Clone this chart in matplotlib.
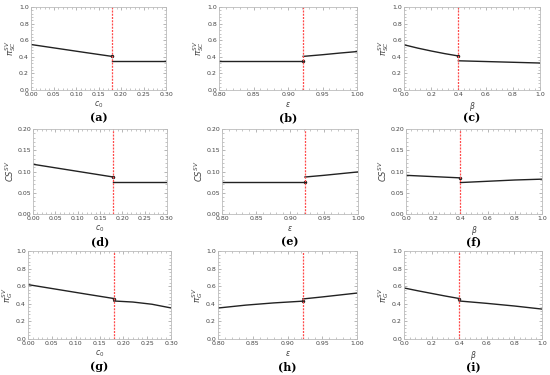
import matplotlib.pyplot as plt
from matplotlib.ticker import AutoMinorLocator

# threshold values (red dashed lines)
c0_cut = 0.18
eps_cut = 0.922
beta_cut = 0.40

# x grids for each parameter, split at the threshold
c0_left = [0.0, 0.06, 0.12, 0.18]
c0_right = [0.18, 0.22, 0.26, 0.30]
eps_left = [0.80, 0.84, 0.88, 0.922]
eps_right = [0.922, 0.95, 0.975, 1.0]
beta_left = [0.0, 0.1, 0.2, 0.3, 0.4]
beta_right = [0.4, 0.6, 0.8, 1.0]

# pi_SC
a_left = [0.548, 0.500, 0.452, 0.405]
a_right = [0.352, 0.352, 0.352, 0.352]
b_left = [0.352, 0.352, 0.352, 0.352]
b_right = [0.405, 0.425, 0.445, 0.463]
c_left = [0.545, 0.505, 0.470, 0.438, 0.410]
c_right = [0.352, 0.343, 0.334, 0.325]

# CS
d_left = [0.117, 0.107, 0.097, 0.087]
d_right = [0.076, 0.076, 0.076, 0.076]
e_left = [0.076, 0.076, 0.076, 0.076]
e_right = [0.087, 0.091, 0.095, 0.099]
f_left = [0.091, 0.0895, 0.088, 0.0865, 0.085]
f_right = [0.074, 0.077, 0.080, 0.082]

# pi_G
g_left = [0.618, 0.565, 0.512, 0.460]
g_right = [0.432, 0.420, 0.395, 0.353]
h_left = [0.352, 0.385, 0.410, 0.430]
h_right = [0.455, 0.478, 0.500, 0.522]
i_left = [0.580, 0.548, 0.518, 0.488, 0.460]
i_right = [0.432, 0.405, 0.375, 0.340]

W, H = 550, 375
fig = plt.figure(figsize=(5.5, 3.75), dpi=100)

# (left, right, top, bottom) in pixels
boxes = [
    (31, 166, 7, 90), (219, 357, 7, 90), (404, 540, 7, 90),
    (33, 167, 129, 214), (222, 358, 129, 214), (406, 542, 129, 214),
    (28, 171, 251, 339), (218, 357, 251, 339), (404, 542, 251, 339),
]

panels = [
    (c0_left, a_left, c0_right, a_right, c0_cut, (0, 0.30), (0, 1.0), r'$\pi_{SC}^{SV}$', r'$c_0$', '(a)'),
    (eps_left, b_left, eps_right, b_right, eps_cut, (0.8, 1.0), (0, 1.0), r'$\pi_{SC}^{SV}$', r'$\varepsilon$', '(b)'),
    (beta_left, c_left, beta_right, c_right, beta_cut, (0, 1.0), (0, 1.0), r'$\pi_{SC}^{SV}$', r'$\beta$', '(c)'),
    (c0_left, d_left, c0_right, d_right, c0_cut, (0, 0.30), (0, 0.20), r'$CS^{SV}$', r'$c_0$', '(d)'),
    (eps_left, e_left, eps_right, e_right, eps_cut, (0.8, 1.0), (0, 0.20), r'$CS^{SV}$', r'$\varepsilon$', '(e)'),
    (beta_left, f_left, beta_right, f_right, beta_cut, (0, 1.0), (0, 0.20), r'$CS^{SV}$', r'$\beta$', '(f)'),
    (c0_left, g_left, c0_right, g_right, c0_cut, (0, 0.30), (0, 1.0), r'$\pi_{G}^{SV}$', r'$c_0$', '(g)'),
    (eps_left, h_left, eps_right, h_right, eps_cut, (0.8, 1.0), (0, 1.0), r'$\pi_{G}^{SV}$', r'$\varepsilon$', '(h)'),
    (beta_left, i_left, beta_right, i_right, beta_cut, (0, 1.0), (0, 1.0), r'$\pi_{G}^{SV}$', r'$\beta$', '(i)'),
]

grey = '#999999'
for (l, r, t, b), p in zip(boxes, panels):
    xl, yl, xr, yr, cut, xlim, ylim, ylab, xlab, tag = p
    ax = fig.add_axes([l / W, 1 - b / H, (r - l) / W, (b - t) / H])
    ax.plot(xl, yl, color='#222222', lw=1.0)
    ax.plot(xr, yr, color='#222222', lw=1.0)
    ax.plot([xl[-1]], [yl[-1]], 'o', color='#222222', ms=1.5)
    ax.axvline(cut, color='#ff4a4a', ls=(0, (1.6, 1.0)), lw=0.9)
    ax.set_xlim(xlim)
    ax.set_ylim(ylim)
    ax.xaxis.set_minor_locator(AutoMinorLocator(5))
    ax.yaxis.set_minor_locator(AutoMinorLocator(5))
    ax.tick_params(which='both', direction='in', top=True, right=True,
                   color=grey, labelsize=4.5, labelcolor='#444444', pad=1.5)
    ax.tick_params(which='major', length=2.5, width=0.5)
    ax.tick_params(which='minor', length=1.3, width=0.4)
    for s in ax.spines.values():
        s.set_color('#bbbbbb')
        s.set_linewidth(0.6)
    ax.set_ylabel(ylab, fontsize=6, color='#444444', labelpad=1)
    ax.set_xlabel(xlab, fontsize=5.5, color='#444444', labelpad=2)
    fig.text((l + r) / 2 / W, 1 - (b + 28) / H, tag, ha='center', va='center',
             fontsize=8, fontweight='bold', family='serif')

fig.savefig('out.png', dpi=100)
